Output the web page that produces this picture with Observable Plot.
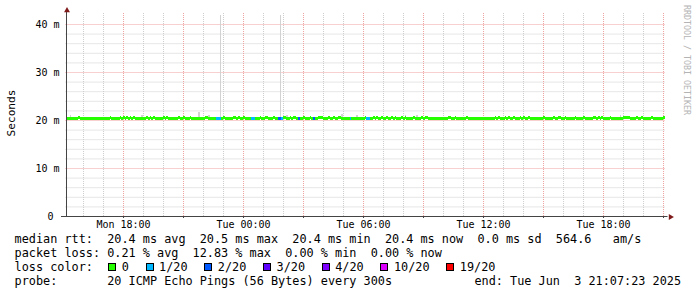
<!DOCTYPE html>
<html>
<head>
<meta charset="utf-8">
<script src="https://cdn.jsdelivr.net/npm/d3@7"></script>
<script src="https://cdn.jsdelivr.net/npm/@observablehq/plot@0.6"></script>
<style>
  html, body { margin: 0; padding: 0; background: #fff; }
  #wrap { position: relative; width: 697px; height: 297px; overflow: hidden; background: #fff;
          font-family: "DejaVu Sans Mono", monospace; color: #000; }
  #chart { position: absolute; left: 0; top: 0; }
  #legend { position: absolute; left: 14.6px; top: 233px; font-size: 11.84px; line-height: 13.9px; white-space: pre; }
  #legend div { height: 13.9px; }
  #end { position: absolute; right: 16px; top: 274.7px; font-size: 11.84px; line-height: 13.9px; white-space: pre; }
  .sw { display: inline-block; box-sizing: border-box; width: 8px; height: 8px; border: 1px solid #000; margin-left: 1px; margin-right: 5.5px; }
  .gap { display: inline-block; width: 1.5px; }
  #ylab { position: absolute; left: 11.5px; top: 113px; font-size: 11.1px; line-height: 1; white-space: pre;
          transform: translate(-50%, -50%) rotate(-90deg); }
  #wm { position: absolute; left: 687px; top: 60px; font-size: 8.3px; line-height: 1; white-space: pre; color: #b4b4b4;
        transform: translate(-50%, -50%) rotate(90deg); }
</style>
</head>
<body>
<div id="wrap">
  <div id="chart"></div>
  <div id="ylab">Seconds</div>
  <div id="wm">RRDTOOL / TOBI OETIKER</div>
  <div id="legend"></div>
  <div id="end"></div>
</div>
<script>
// ---------------- data ----------------
const endStamp = [2025, 5, 3, 21, 7, 23];      // Tue Jun 3 21:07:23 2025
const spanHours = 30;
const stepMinutes = 5;                          // one probe every 300 s
const dayDates = { Mon: [2025, 5, 2], Tue: [2025, 5, 3] };

const baseRtt = 20.4;                           // median rtt (ms), flat line
const raisedRtt = 20.6;                         // 1 px higher steps
const raisedAt = ["Mon 15:45","Mon 17:20","Mon 17:50","Mon 18:00","Mon 18:10","Mon 18:20","Mon 18:30",
  "Mon 19:10","Mon 19:20","Mon 19:30","Mon 20:00","Mon 20:10","Mon 20:45","Mon 21:00","Mon 21:20",
  "Mon 22:05","Mon 22:10","Mon 23:00","Mon 23:30","Mon 23:35","Mon 23:45","Tue 00:00","Tue 00:50",
  "Tue 01:05","Tue 01:10","Tue 01:30","Tue 02:00","Tue 02:05","Tue 02:20","Tue 02:30","Tue 02:35",
  "Tue 03:00","Tue 03:20","Tue 03:45","Tue 03:50","Tue 03:55","Tue 04:15","Tue 04:30","Tue 04:45",
  "Tue 04:50","Tue 06:05","Tue 06:30","Tue 06:40","Tue 06:55","Tue 07:10","Tue 07:25","Tue 07:35",
  "Tue 07:55","Tue 08:05","Tue 08:30","Tue 08:55","Tue 09:05","Tue 09:10","Tue 10:15","Tue 10:20",
  "Tue 10:35","Tue 11:10","Tue 12:35","Tue 12:45","Tue 13:05","Tue 13:15","Tue 13:30","Tue 13:50",
  "Tue 14:00","Tue 14:15","Tue 15:00","Tue 15:30","Tue 15:45","Tue 15:50","Tue 16:05","Tue 16:35",
  "Tue 17:00","Tue 17:30","Tue 17:35","Tue 17:45","Tue 17:55","Tue 18:20","Tue 19:00","Tue 19:05",
  "Tue 19:10","Tue 19:15","Tue 19:40","Tue 19:55","Tue 20:25","Tue 21:00"];

// lost pings (out of 20) per interval
const lossTimes  = ["Mon 22:40","Mon 22:45","Mon 22:50","Tue 00:25","Tue 00:30","Tue 01:45","Tue 01:50",
                    "Tue 01:55","Tue 02:45","Tue 03:30","Tue 05:20","Tue 06:10","Tue 06:15"];
const lossCounts = [1, 1, 1, 1, 1, 2, 2, 1, 2, 2, 1, 1, 1];

// smoke (highest ping, ms) where it shows above the median line
const smokeTimes  = ["Mon 15:20","Mon 18:55","Mon 21:45","Mon 22:15","Mon 22:50","Tue 01:50","Tue 02:10",
                     "Tue 04:55","Tue 05:40","Tue 08:05","Tue 08:40","Tue 18:50"];
const smokeValues = [21.0, 21.0, 21.7, 21.0, 41.9, 41.9, 21.1, 21.2, 21.0, 21.0, 21.0, 21.1];

const lossThresholds = [1, 2, 3, 4, 10, 19];
const lossColors = ["#26ff00", "#00b8ff", "#0059ff", "#5e00ff", "#7e00ff", "#dd00ff", "#ff0000"];
const lossLabels = ["0", "1/20", "2/20", "3/20", "4/20", "10/20", "19/20"];

const yTicks = [0, 10, 20, 30, 40];
const yTop = 42.29;

const legendLines = [
  "median rtt:  20.4 ms avg  20.5 ms max  20.4 ms min  20.4 ms now  0.0 ms sd  564.6   am/s",
  "packet loss: 0.21 % avg  12.83 % max  0.00 % min  0.00 % now",
  "loss color:  ",
  "probe:       20 ICMP Echo Pings (56 Bytes) every 300s"
];
const endLabel = "end: Tue Jun  3 21:07:23 2025";

// ---------------- build tables ----------------
function at(s) {
  const [d, hm] = s.split(" ");
  const [h, m] = hm.split(":").map(Number);
  const [Y, M, D] = dayDates[d];
  return Date.UTC(Y, M, D, h, m);
}
const endTime = Date.UTC(...endStamp);
const startTime = endTime - spanHours * 3600e3;
const step = stepMinutes * 60e3;

const raisedSet = new Set(raisedAt.map(at));
const lossMap = new Map(lossTimes.map((s, i) => [at(s), lossCounts[i]]));

const series = [];
for (let t = Math.floor(startTime / step) * step; t + step <= endTime; t += step) {
  series.push({
    t0: new Date(Math.max(t, startTime)),
    t1: new Date(t + step),
    rtt: raisedSet.has(t) ? raisedRtt : baseRtt,
    loss: lossMap.get(t) ?? 0
  });
}
const smoke = smokeTimes.map((s, i) => ({ t0: new Date(at(s)), t1: new Date(at(s) + step), lo: baseRtt, hi: smokeValues[i] }));

const hours = d3.utcHour.range(new Date(startTime), new Date(endTime));
const majorX = hours.filter(d => d.getUTCHours() % 3 === 0);
const minorX = hours.filter(d => d.getUTCHours() % 3 !== 0);
const labelX = hours.filter(d => d.getUTCHours() % 6 === 0);
const majorY = yTicks.filter(v => v > 0);
const minorY = d3.range(2, 41, 2).filter(v => v % 10 !== 0);

const minorGrid = { stroke: "#cdcdcd", strokeDasharray: "1,1" };
const majorGrid = { stroke: "#f0a0a0", strokeDasharray: "1,1" };
const axisColor = "#444";
const arrowColor = "#7f1a1a";

const chart = Plot.plot({
  width: 697, height: 233,
  marginLeft: 65.5, marginRight: 31.5, marginTop: 13, marginBottom: 17,
  x: { type: "utc", domain: [new Date(startTime), new Date(endTime)], axis: null },
  y: { domain: [0, yTop], axis: null },
  color: { type: "threshold", domain: lossThresholds, range: lossColors },
  style: { fontFamily: '"DejaVu Sans Mono", monospace', fontSize: "10px", background: "transparent", color: "#000", overflow: "visible" },
  marks: [
    Plot.ruleX(minorX, minorGrid),
    Plot.ruleY(minorY, minorGrid),
    Plot.ruleX(majorX, majorGrid),
    Plot.ruleY(majorY, majorGrid),
    Plot.rect(smoke, { x1: "t0", x2: "t1", y1: "lo", y2: "hi", fill: "#d2d2d2", shapeRendering: "crispEdges" }),
    Plot.ruleY(series, { x1: "t0", x2: "t1", y: "rtt", stroke: "loss", strokeWidth: 3, shapeRendering: "crispEdges" }),
    Plot.ruleY([0], { stroke: axisColor, insetLeft: -4.5, insetRight: -2 }),
    Plot.ruleX([new Date(startTime)], { stroke: axisColor, dx: 0.5, insetTop: -3 }),
    Plot.axisX({ ticks: majorX, tickSize: 2, tickFormat: () => "", stroke: axisColor }),
    Plot.axisX({ ticks: labelX, tickSize: 0, tickPadding: 4, tickFormat: d3.utcFormat("%a %H:%M"), fill: "#000" }),
    Plot.axisY({ ticks: yTicks, tickSize: 0, tickPadding: 6.5, fill: "#000",
                 tickFormat: d => d === 0 ? "0\u00a0" : d + " m" }),
    Plot.dot([new Date(startTime)], { x: d => d, y: yTop, dx: 1, dy: -3, symbol: "triangle", r: 2.2, fill: arrowColor, stroke: "none" }),
    Plot.dot([new Date(endTime)], { x: d => d, y: 0, dx: 4.5, dy: 0.5, symbol: "triangle", r: 2.2, rotate: 90, fill: arrowColor, stroke: "none" })
  ]
});
document.getElementById("chart").appendChild(chart);

// ---------------- legend text ----------------
const legend = document.getElementById("legend");
legendLines.forEach((line, i) => {
  const div = document.createElement("div");
  div.textContent = line;
  if (i === 2) {
    lossLabels.forEach((lab, j) => {
      const sw = document.createElement("span");
      sw.className = "sw";
      sw.style.background = lossColors[j];
      div.appendChild(sw);
      div.appendChild(document.createTextNode(lab + (j < lossLabels.length - 1 ? "  " : "")));
      if (j < lossLabels.length - 1) {
        const g = document.createElement("span"); g.className = "gap"; div.appendChild(g);
      }
    });
  }
  legend.appendChild(div);
});
document.getElementById("end").textContent = endLabel;
</script>
</body>
</html>
